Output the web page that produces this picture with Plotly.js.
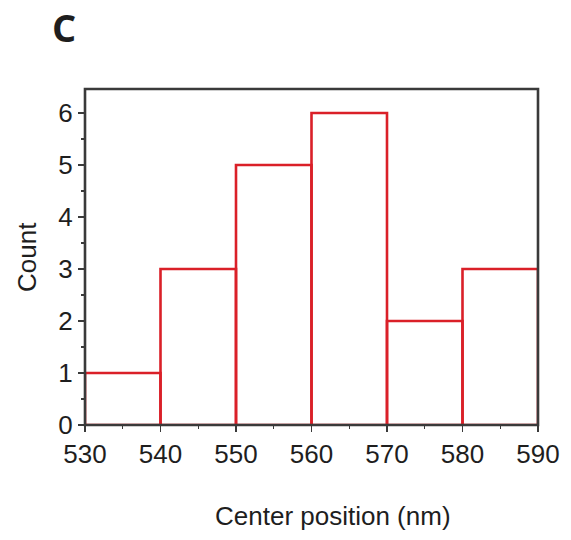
<!DOCTYPE html>
<html>
<head>
<meta charset="utf-8">
<script src="https://cdn.plot.ly/plotly-3.0.1.min.js"></script>
<style>html,body{margin:0;padding:0;background:#fff;}#chart{width:571px;height:540px;}</style>
</head>
<body>
<div id="chart"></div>
<script>
const binCenters = [535, 545, 555, 565, 575, 585];
const counts = [1, 3, 5, 6, 2, 3];
const binWidth = 10;
const xTickVals = [530, 540, 550, 560, 570, 580, 590];
const yTickVals = [0, 1, 2, 3, 4, 5, 6];
const panelLabel = 'C';
const xTitle = 'Center position (nm)';
const yTitle = 'Count';

const red = 'rgb(218,32,40)';
const axisColor = '#3a3a3a';
const font = 'Liberation Sans, Arial, sans-serif';
const txt = '#1e1e1e';

const trace = {
  type: 'bar',
  x: binCenters,
  y: counts,
  width: binCenters.map(() => binWidth),
  marker: {color: 'rgba(255,255,255,0)', line: {color: red, width: 2.6}},
  hoverinfo: 'none'
};

const layout = {
  width: 571, height: 540,
  margin: {l: 85, r: 33, t: 89, b: 115},
  paper_bgcolor: '#fff', plot_bgcolor: '#fff',
  showlegend: false,
  bargap: 0,
  font: {family: font, color: txt, size: 26},
  xaxis: {
    range: [530, 590],
    tickvals: xTickVals,
    ticks: 'outside', ticklen: 6, tickwidth: 1.5, tickcolor: axisColor,
    minor: {dtick: 5, tick0: 530, ticks: 'outside', ticklen: 3, tickwidth: 1.2, tickcolor: axisColor},
    showline: false,
    showgrid: false, zeroline: false,
    tickfont: {family: font, size: 26, color: txt}
  },
  yaxis: {
    range: [0, 6.46],
    tickvals: yTickVals,
    ticks: 'outside', ticklen: 6, tickwidth: 1.5, tickcolor: axisColor,
    minor: {dtick: 0.5, tick0: 0, ticks: 'outside', ticklen: 3, tickwidth: 1.2, tickcolor: axisColor},
    showline: false,
    showgrid: false, zeroline: false,
    tickfont: {family: font, size: 26, color: txt}
  },
  shapes: [
    {type: 'rect', xref: 'paper', yref: 'paper', x0: 0, x1: 1, y0: 0, y1: 1, layer: 'above',
     line: {color: axisColor, width: 2.6}, fillcolor: 'rgba(0,0,0,0)'}
  ],
  annotations: [
    {text: panelLabel, xref: 'paper', yref: 'paper', x: -0.046, y: 1.184, xanchor: 'center', yanchor: 'middle',
     showarrow: false, font: {family: 'Open Sans, sans-serif', size: 38, color: txt, weight: 'bold'}},
    {text: xTitle, xref: 'paper', yref: 'paper', x: 0.548, y: -0.272, xanchor: 'center', yanchor: 'middle',
     showarrow: false, font: {family: font, size: 26, color: txt}},
    {text: yTitle, xref: 'paper', yref: 'paper', x: -0.128, y: 0.5, xanchor: 'center', yanchor: 'middle',
     textangle: -90, showarrow: false, font: {family: font, size: 26, color: txt}}
  ]
};

Plotly.newPlot('chart', [trace], layout, {displayModeBar: false, staticPlot: true});
</script>
</body>
</html>
